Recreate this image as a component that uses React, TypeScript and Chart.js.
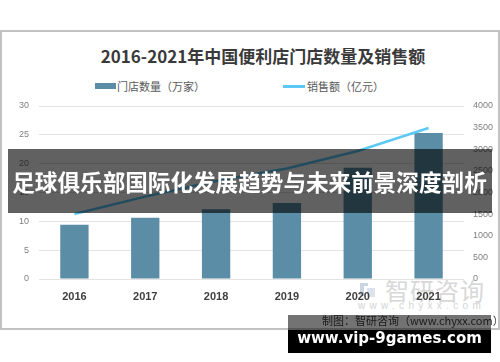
import React, { useEffect, useRef } from "react";
import { Chart, registerables } from "chart.js";

Chart.register(...registerables);

const years = ["2016", "2017", "2018", "2019", "2020", "2021"];
const storeCounts = [9.4, 10.6, 12.1, 13.2, 19.3, 25.3];
const salesValues = [1503, 1905, 2264, 2556, 2961, 3492];
const storeLabel = "门店数量（万家）";
const salesLabel = "销售额（亿元）";
const titleText = "2016-2021年中国便利店门店数量及销售额";
const bannerText = "足球俱乐部国际化发展趋势与未来前景深度剖析";
const sourceText = "制图：智研咨询（www.chyxx.com）";
const siteText = "www.vip-9games.com";
const leftMax = 30;
const leftStep = 5;
const rightMax = 4000;
const rightStep = 500;

const BAR_COLOR = "#5b8ea6";
const LINE_COLOR = "#5bc8f5";
const CJK = "'Noto Sans CJK SC', 'Noto Sans', sans-serif";
const SANS = "'Liberation Sans', Arial, sans-serif";

export default function App() {
  const canvasRef = useRef<HTMLCanvasElement | null>(null);

  useEffect(() => {
    const canvas = canvasRef.current;
    if (!canvas) return;
    const chart = new Chart(canvas, {
      type: "bar",
      data: {
        labels: years,
        datasets: [
          {
            type: "line",
            label: salesLabel,
            data: salesValues,
            yAxisID: "y1",
            borderColor: LINE_COLOR,
            backgroundColor: LINE_COLOR,
            borderWidth: 2.5,
            pointRadius: 0,
            tension: 0,
            order: 0,
          } as any,
          {
            type: "bar",
            label: storeLabel,
            data: storeCounts,
            yAxisID: "y",
            backgroundColor: BAR_COLOR,
            categoryPercentage: 0.8,
            barPercentage: 0.5,
            order: 1,
          } as any,
        ],
      },
      options: {
        animation: false,
        responsive: false,
        devicePixelRatio: 1,
        layout: { padding: { top: 106, left: 0, right: 0, bottom: 0 } },
        plugins: {
          legend: { display: false },
          title: { display: false },
          tooltip: { enabled: false },
        },
        scales: {
          x: {
            type: "category",
            offset: true,
            grid: { display: false, drawTicks: false },
            border: { display: false },
            ticks: {
              color: "#404040",
              font: { family: SANS, size: 11, weight: "bold" },
              padding: 11,
            },
            afterFit: (s: any) => {
              s.height = 83;
            },
          },
          y: {
            position: "left",
            min: 0,
            max: leftMax,
            grid: { color: "#e3e3e3", lineWidth: 1, drawTicks: false },
            border: { display: false },
            ticks: {
              stepSize: leftStep,
              color: "#808080",
              font: { family: SANS, size: 9 },
              padding: 10,
              callback: (v: any) => String(v),
            },
            afterFit: (s: any) => {
              s.width = 39;
            },
          },
          y1: {
            position: "right",
            min: 0,
            max: rightMax,
            grid: { drawOnChartArea: false, drawTicks: false },
            border: { display: false },
            ticks: {
              stepSize: rightStep,
              color: "#808080",
              font: { family: SANS, size: 9 },
              padding: 9,
              callback: (v: any) => String(v),
            },
            afterFit: (s: any) => {
              s.width = 36;
            },
          },
        },
      } as any,
    });
    return () => chart.destroy();
  }, []);

  return (
    <div
      style={{
        position: "fixed",
        left: 0,
        top: 0,
        width: 500,
        height: 362,
        background: "#ffffff",
        overflow: "hidden",
      }}
    >
      {/* chart frame */}
      <div
        style={{
          position: "absolute",
          left: 0,
          top: 30,
          width: 500,
          height: 300,
          border: "2px solid #c2c2c2",
          boxSizing: "border-box",
        }}
      />
      {/* title */}
      <div
        style={{
          position: "absolute",
          left: 263,
          top: 45,
          transform: "translateX(-50%)",
          whiteSpace: "nowrap",
          font: `bold 17px ${CJK}`,
          lineHeight: "22px",
          color: "#3a3a3a",
        }}
      >
        {titleText}
      </div>
      {/* legend */}
      <div
        style={{
          position: "absolute",
          left: 95,
          top: 83,
          width: 21,
          height: 6,
          background: BAR_COLOR,
        }}
      />
      <div
        style={{
          position: "absolute",
          left: 117,
          top: 78,
          whiteSpace: "nowrap",
          font: `11px ${CJK}`,
          lineHeight: "16px",
          color: "#595959",
        }}
      >
        {storeLabel}
      </div>
      <div
        style={{
          position: "absolute",
          left: 283,
          top: 85,
          width: 22,
          height: 2.5,
          background: LINE_COLOR,
        }}
      />
      <div
        style={{
          position: "absolute",
          left: 307,
          top: 78,
          whiteSpace: "nowrap",
          font: `11px ${CJK}`,
          lineHeight: "16px",
          color: "#595959",
        }}
      >
        {salesLabel}
      </div>
      {/* watermark */}
      <div
        style={{
          position: "absolute",
          left: 360,
          top: 283,
          width: 8,
          height: 13,
          borderLeft: "4px solid #c9d5e2",
          borderTop: "3px solid #c9d5e2",
          boxSizing: "border-box",
        }}
      />
      <div
        style={{
          position: "absolute",
          left: 367,
          top: 288,
          width: 8,
          height: 9,
          background: "#dbe4ee",
        }}
      />
      <div
        style={{
          position: "absolute",
          left: 385,
          top: 276,
          whiteSpace: "nowrap",
          font: `24px ${CJK}`,
          lineHeight: "28px",
          letterSpacing: "1px",
          color: "#d8d8d8",
        }}
      >
        智研咨询
      </div>
      <div
        style={{
          position: "absolute",
          left: 358,
          top: 300,
          whiteSpace: "nowrap",
          font: `10px ${SANS}`,
          lineHeight: "12px",
          letterSpacing: "4.3px",
          color: "#d4d4d4",
        }}
      >
        www.chyxx.com
      </div>
      {/* chart canvas */}
      <canvas
        ref={canvasRef}
        width={500}
        height={362}
        style={{ position: "absolute", left: 0, top: 0, width: 500, height: 362 }}
      />
      {/* source caption */}
      <div
        style={{
          position: "absolute",
          left: 322,
          top: 312,
          whiteSpace: "nowrap",
          font: `11px ${CJK}`,
          lineHeight: "16px",
          color: "#404040",
        }}
      >
        {sourceText}
      </div>
      {/* bottom banner */}
      <div
        style={{
          position: "absolute",
          left: 288,
          top: 315,
          width: 203,
          height: 15,
          background: "rgba(0,0,0,0.55)",
        }}
      />
      <div
        style={{
          position: "absolute",
          left: 288,
          top: 330,
          width: 203,
          height: 23,
          background: "#000000",
          color: "#ffffff",
          font: `bold 15px 'DejaVu Sans', sans-serif`,
          lineHeight: "17px",
          textAlign: "center",
          whiteSpace: "nowrap",
        }}
      >
        <div style={{ marginTop: 0 }}>{siteText}</div>
      </div>
      {/* overlay banner */}
      <div
        style={{
          position: "absolute",
          left: 8,
          top: 149,
          width: 484,
          height: 64,
          background: "rgba(0,0,0,0.62)",
        }}
      />
      <div
        style={{
          position: "absolute",
          left: 249.5,
          top: 167,
          transform: "translateX(-50%)",
          whiteSpace: "nowrap",
          font: `bold 22.6px ${CJK}`,
          lineHeight: "30px",
          color: "#ffffff",
        }}
      >
        {bannerText}
      </div>
    </div>
  );
}
